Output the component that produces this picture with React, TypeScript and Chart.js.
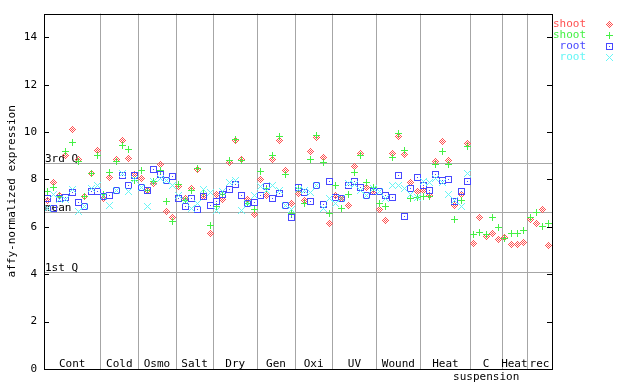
import React, { useEffect, useRef } from "react";
import { Chart, registerables } from "chart.js";

Chart.register(...registerables);

// ---- data ----
const groupNames = ["Cont", "Cold", "Osmo", "Salt", "Dry", "Gen", "Oxi", "UV", "Wound", "Heat", "C\nsuspension", "Heat", "rec"];
const groupSizes = [9, 6, 6, 6, 7, 6, 6, 7, 7, 8, 5, 4, 4];

const shootRed = [
  7.13, 7.86, 7.34, 9.03, 10.11, 8.83, 7.27, 8.27, 9.24,
  7.2, 8.08, 8.85, 9.66, 8.88, 8.2,
  8.04, 7.55, 7.84, 8.65, 6.65, 6.4,
  7.72, 7.2, 7.6, 8.44, 7.27, 5.72,
  7.38, 7.17, 8.7, 9.63, 8.86, 7.16, 6.5,
  8.0, 7.33, 8.84, 9.63, 8.36, 6.99,
  7.41, 7.13, 9.18, 9.77, 8.91, 6.14,
  7.32, 7.18, 6.91, 8.56, 9.11, 7.66, 7.48,
  6.74, 6.28, 9.1, 9.81, 9.05, 7.86, 7.48,
  7.52, 7.32, 8.76, 9.62, 8.81, 6.92, 7.36, 9.52,
  5.3, 6.38, 5.61, 5.72, 5.47,
  5.55, 5.26, 5.27, 5.34,
  6.33, 6.14, 6.74, 5.23,
];
const shootGreen = [
  7.48, 7.66, 7.3, 9.17, 9.56, 8.77, 7.3, 8.25, 9.03,
  7.38, 8.29, 8.77, 9.45, 9.27, 7.97,
  8.36, 7.55, 7.93, 8.36, 7.09, 6.21,
  7.8, 7.11, 7.55, 8.47, 7.39, 6.06,
  6.86, 7.38, 8.79, 9.68, 8.8, 6.99, 6.74,
  8.35, 7.6, 9.03, 9.8, 8.21, 6.57,
  7.62, 6.99, 8.84, 9.87, 8.72, 6.57,
  7.75, 6.78, 7.38, 8.3, 9.03, 7.89, 7.66,
  6.99, 6.85, 8.93, 9.94, 9.24, 7.2, 7.24,
  7.3, 7.3, 8.65, 9.17, 8.65, 6.33, 7.13, 9.41,
  5.68, 5.77, 5.69, 6.4, 5.99,
  5.5, 5.72, 5.72, 5.86,
  6.4, 6.62, 6.03, 6.14,
];
const rootBlue = [
  7.2, 6.78, 7.19, 7.24, 7.45, 7.04, 6.85, 7.51, 7.51,
  7.27, 7.32, 7.55, 8.18, 7.76, 8.18,
  7.66, 7.55, 8.42, 8.22, 7.97, 8.14,
  7.2, 6.87, 7.2, 6.74, 7.27, 6.89,
  7.07, 7.38, 7.58, 7.79, 7.32, 6.99, 7.03,
  7.32, 7.7, 7.2, 7.41, 6.92, 6.4,
  7.68, 7.47, 7.09, 7.73, 6.96, 7.93,
  7.24, 7.18, 7.75, 7.9, 7.68, 7.31, 7.48,
  7.49, 7.32, 7.24, 8.18, 6.44, 7.62, 8.08,
  7.75, 7.54, 8.22, 7.96, 8.01, 7.09, 7.48, 7.92,
  null, null, null, null, null,
  null, null, null, null,
  null, null, null, null,
];
const rootCyan = [
  6.78, 7.38, 7.16, 7.15, 7.56, 6.66, 6.87, 7.62, 7.73,
  7.3, 6.92, 7.55, 8.25, 7.51, 8.0,
  7.66, 6.87, 7.9, 8.03, 7.97, 7.75,
  7.34, 7.1, 6.78, 6.99, 7.57, 7.47,
  6.7, 7.48, 7.89, 7.97, 6.67, 7.0, 7.34,
  7.72, 7.55, 7.76, 7.55, 6.92, 6.74,
  7.58, 7.55, 7.47, 7.73, 6.78, 7.2,
  6.98, 7.18, 7.83, 7.8, 7.55, 7.31, 7.6,
  7.48, 7.18, 7.75, 7.75, 7.61, 7.38, 7.24,
  7.93, 7.86, 8.04, 7.86, 7.37, 7.1, 6.86, 8.25,
  null, null, null, null, null,
  null, null, null, null,
  null, null, null, null,
];

const quartileValues = [8.68, 6.62, 4.08];
const quartileLabels = ["3rd Q", "mean", "1st Q"];
const yTicks = [0, 2, 4, 6, 8, 10, 12, 14];
const seriesLabels = ["shoot", "shoot", "root", "root"];

// ---- styles ----
const RED = "#ff5050";
const GREEN = "#44f044";
const BLUE = "#4848ff";
const CYAN = "#66f6f6";
const GRID = "#a6a6a6";
const FONT_FAMILY = "'DejaVu Sans Mono', monospace";
const FONT = `11px ${FONT_FAMILY}`;

const PATTERNS: Record<string, string[]> = {
  diamond: ["...#...", "..#.#..", ".#.#.#.", "#.#.#.#", ".#.#.#.", "..#.#..", "...#..."],
  plus: ["...#...", "...#...", "...#...", "#######", "...#...", "...#...", "...#..."],
  square: ["#######", "#.....#", "#.....#", "#..#..#", "#.....#", "#.....#", "#######"],
  ex: ["#.....#", ".#...#.", "..#.#..", "...#...", "..#.#..", ".#...#.", "#.....#"],
};

function makeMarker(pattern: string[], color: string): HTMLCanvasElement {
  const c = document.createElement("canvas");
  c.width = pattern[0].length;
  c.height = pattern.length;
  const g = c.getContext("2d")!;
  g.fillStyle = color;
  pattern.forEach((row, r) => {
    for (let k = 0; k < row.length; k++) if (row[k] === "#") g.fillRect(k, r, 1, 1);
  });
  return c;
}

function toPoints(arr: (number | null)[]) {
  const pts: { x: number; y: number }[] = [];
  arr.forEach((v, i) => {
    if (v !== null && v !== undefined) pts.push({ x: i + 0.5, y: v });
  });
  return pts;
}

export default function App() {
  const ref = useRef<HTMLCanvasElement | null>(null);

  useEffect(() => {
    if (!ref.current) return;
    const markers = [
      makeMarker(PATTERNS.diamond, RED),
      makeMarker(PATTERNS.plus, GREEN),
      makeMarker(PATTERNS.square, BLUE),
      makeMarker(PATTERNS.ex, CYAN),
    ];
    const colors = [RED, GREEN, BLUE, CYAN];
    const totalSlots = groupSizes.reduce((a, b) => a + b, 0);

    const overlay = {
      id: "overlay",
      beforeDatasetsDraw(chart: any) {
        const { ctx, chartArea: a, scales } = chart;
        const xs = scales.x;
        const ys = scales.y;
        ctx.save();
        ctx.strokeStyle = GRID;
        ctx.lineWidth = 1;
        let acc = 0;
        const bounds: number[] = [xs.getPixelForValue(0)];
        groupSizes.forEach((n: number, gi: number) => {
          acc += n;
          const px = xs.getPixelForValue(acc);
          bounds.push(px);
          if (gi < groupSizes.length - 1) {
            const p = Math.round(px) + 0.5;
            ctx.beginPath();
            ctx.moveTo(p, a.top);
            ctx.lineTo(p, a.bottom);
            ctx.stroke();
          }
        });
        quartileValues.forEach((q) => {
          const p = Math.round(ys.getPixelForValue(q)) + 0.5;
          ctx.beginPath();
          ctx.moveTo(a.left, p);
          ctx.lineTo(a.right, p);
          ctx.stroke();
        });
        ctx.fillStyle = "#000";
        ctx.font = FONT;
        ctx.textAlign = "left";
        ctx.textBaseline = "alphabetic";
        quartileValues.forEach((q, i) => {
          const p = Math.round(ys.getPixelForValue(q));
          ctx.fillText(quartileLabels[i], a.left + 1, p - 1);
        });
        ctx.textAlign = "center";
        groupNames.forEach((name, gi) => {
          const cx = (bounds[gi] + bounds[gi + 1]) / 2;
          const lines = name.split("\n");
          lines.forEach((ln, li) => {
            ctx.fillText(ln, cx, a.bottom - 2 + li * 13);
          });
        });
        ctx.restore();
        ctx.imageSmoothingEnabled = false;
      },
      afterDraw(chart: any) {
        const { ctx, chartArea: a, scales } = chart;
        const ys = scales.y;
        ctx.save();
        ctx.strokeStyle = "#000";
        ctx.lineWidth = 1;
        ctx.strokeRect(Math.round(a.left) + 0.5, Math.round(a.top) + 0.5, Math.round(a.right - a.left), Math.round(a.bottom - a.top));
        yTicks.forEach((v) => {
          const p = Math.round(ys.getPixelForValue(v)) + 0.5;
          ctx.beginPath();
          ctx.moveTo(a.left, p);
          ctx.lineTo(a.left + 5, p);
          ctx.moveTo(a.right - 5, p);
          ctx.lineTo(a.right, p);
          ctx.stroke();
        });
        // y-axis title
        ctx.fillStyle = "#000";
        ctx.font = FONT;
        ctx.save();
        ctx.translate(12, (a.top + a.bottom) / 2);
        ctx.rotate(-Math.PI / 2);
        ctx.textAlign = "center";
        ctx.textBaseline = "middle";
        ctx.fillText("affy-normalized expression", 0, 0);
        ctx.restore();
        // legend
        ctx.textAlign = "right";
        ctx.textBaseline = "middle";
        ctx.imageSmoothingEnabled = false;
        seriesLabels.forEach((lab, i) => {
          const yc = 24 + i * 11;
          ctx.fillStyle = colors[i];
          ctx.fillText(lab, 586, yc);
          ctx.drawImage(markers[i], 606, yc - 3);
        });
        ctx.restore();
      },
    };

    const mk = (label: string, arr: (number | null)[], i: number, order: number) => ({
      label,
      data: toPoints(arr),
      pointStyle: markers[i],
      pointRadius: 3.5,
      pointHoverRadius: 3.5,
      borderColor: colors[i],
      backgroundColor: colors[i],
      showLine: false,
      order,
    });

    const chart = new Chart(ref.current, {
      type: "scatter",
      data: {
        datasets: [
          mk("shoot", shootRed, 0, 4),
          mk("shoot", shootGreen, 1, 3),
          mk("root", rootBlue, 2, 2),
          mk("root", rootCyan, 3, 1),
        ],
      },
      options: {
        animation: false,
        responsive: false,
        maintainAspectRatio: false,
        events: [],
        layout: { padding: { top: 13, left: 0, right: 0, bottom: 0 } },
        plugins: { legend: { display: false }, tooltip: { enabled: false }, title: { display: false } },
        scales: {
          x: {
            type: "linear",
            min: 0,
            max: totalSlots,
            ticks: { display: false },
            grid: { display: false, drawTicks: false },
            border: { display: false },
            afterFit: (s: any) => {
              s.height = 15;
            },
          },
          y: {
            type: "linear",
            position: "left",
            min: 0,
            max: 15,
            afterBuildTicks: (s: any) => {
              s.ticks = yTicks.map((v) => ({ value: v }));
            },
            ticks: { color: "#000", font: { family: FONT_FAMILY, size: 11 }, padding: 7 },
            grid: { display: false, drawTicks: false },
            border: { display: false },
            afterFit: (s: any) => {
              s.width = 44;
            },
          },
          y2: {
            type: "linear",
            position: "right",
            min: 0,
            max: 15,
            ticks: { display: false },
            grid: { display: false, drawTicks: false },
            border: { display: false },
            afterFit: (s: any) => {
              s.width = 88;
            },
          },
        },
      } as any,
      plugins: [overlay],
    });
    return () => chart.destroy();
  }, []);

  return (
    <div style={{ position: "absolute", left: 0, top: 0, width: 640, height: 384, background: "#fff" }}>
      <canvas ref={ref} width={640} height={384} style={{ display: "block" }} />
    </div>
  );
}
